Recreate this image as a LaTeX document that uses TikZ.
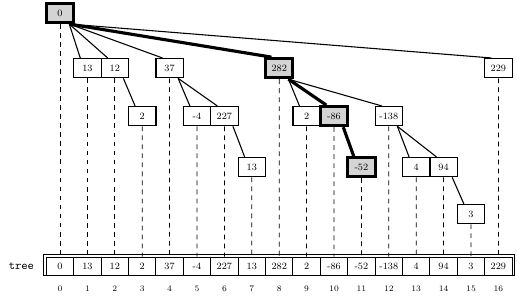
\documentclass[tikz,border=0pt]{standalone}
\usepackage{tikz}
\usetikzlibrary{positioning, fit, calc}
\tikzset{
    treenode/.style={rectangle, draw=black, line width=1pt, fill=white, minimum width=0.8cm, minimum height=0.56cm, inner sep=0pt, font=\footnotesize},
    pathnode/.style={treenode, fill=black!17, line width=2.4pt},
    cell/.style={rectangle, draw=black, line width=0.8pt, minimum width=0.8cm, minimum height=0.52cm, inner sep=0pt, font=\footnotesize},
    idx/.style={font=\scriptsize},
    edge/.style={line width=0.9pt, color=black},
    pathedge/.style={line width=2.6pt, color=black},
    guide/.style={dashed, dash pattern=on 4pt off 3.5pt, line width=0.6pt}
}

\begin{document}
\begin{tikzpicture}
    \useasboundingbox (-1.752,0) rectangle (13.343,-8.818);

    % tree nodes, one per column
    \node (n0) [pathnode] at (0,-0.38) {0};
    \node (n1) [treenode] at (0.8,-1.99) {13};
    \node (n2) [treenode] at (1.6,-1.99) {12};
    \node (n3) [treenode] at (2.4,-3.39) {2};
    \node (n4) [treenode] at (3.2,-1.99) {37};
    \node (n5) [treenode] at (4.0,-3.39) {-4};
    \node (n6) [treenode] at (4.8,-3.39) {227};
    \node (n7) [treenode] at (5.6,-4.88) {13};
    \node (n8) [pathnode] at (6.4,-1.99) {282};
    \node (n9) [treenode] at (7.2,-3.39) {2};
    \node (n10) [pathnode] at (8.0,-3.39) {-86};
    \node (n11) [pathnode] at (8.8,-4.88) {-52};
    \node (n12) [treenode] at (9.6,-3.39) {-138};
    \node (n13) [treenode] at (10.4,-4.88) {4};
    \node (n14) [treenode] at (11.2,-4.88) {94};
    \node (n15) [treenode] at (12.0,-6.25) {3};
    \node (n16) [treenode] at (12.8,-1.99) {229};

    % the array
    \foreach \v [count=\i from 0] in {0,13,12,2,37,-4,227,13,282,2,-86,-52,-138,4,94,3,229} {
        \node (c\i) [cell] at (\i*0.8,-7.77) {\v};
        \node [idx] at (\i*0.8,-8.44) {\i};
        \draw [guide] (n\i.south) -- (c\i.north);
    }
    \draw [line width=0.8pt] ($(c0.south west)+(-1.7pt,0)$) rectangle ($(c16.north east)+(1.7pt,1.7pt)$);
    \node (lbl) [left=0.22cm of c0] {\texttt{tree}};

    % edges
    \draw [edge] (n0.-50) -- (n1.125);
    \draw [edge] (n0.-50) -- (n2.125);
    \draw [edge] (n0.-50) -- (n4.125);
    \draw [pathedge] (n0.-50) -- (n8.125);
    \draw [edge] (n0.-50) -- (n16.125);
    \draw [edge] (n2.-50) -- (n3.125);
    \draw [edge] (n4.-50) -- (n5.125);
    \draw [edge] (n4.-50) -- (n6.125);
    \draw [edge] (n6.-50) -- (n7.125);
    \draw [edge] (n8.-50) -- (n9.125);
    \draw [pathedge] (n8.-50) -- (n10.125);
    \draw [edge] (n8.-50) -- (n12.125);
    \draw [pathedge] (n10.-50) -- (n11.125);
    \draw [edge] (n12.-50) -- (n13.125);
    \draw [edge] (n12.-50) -- (n14.125);
    \draw [edge] (n14.-50) -- (n15.125);
\end{tikzpicture}
\end{document}
